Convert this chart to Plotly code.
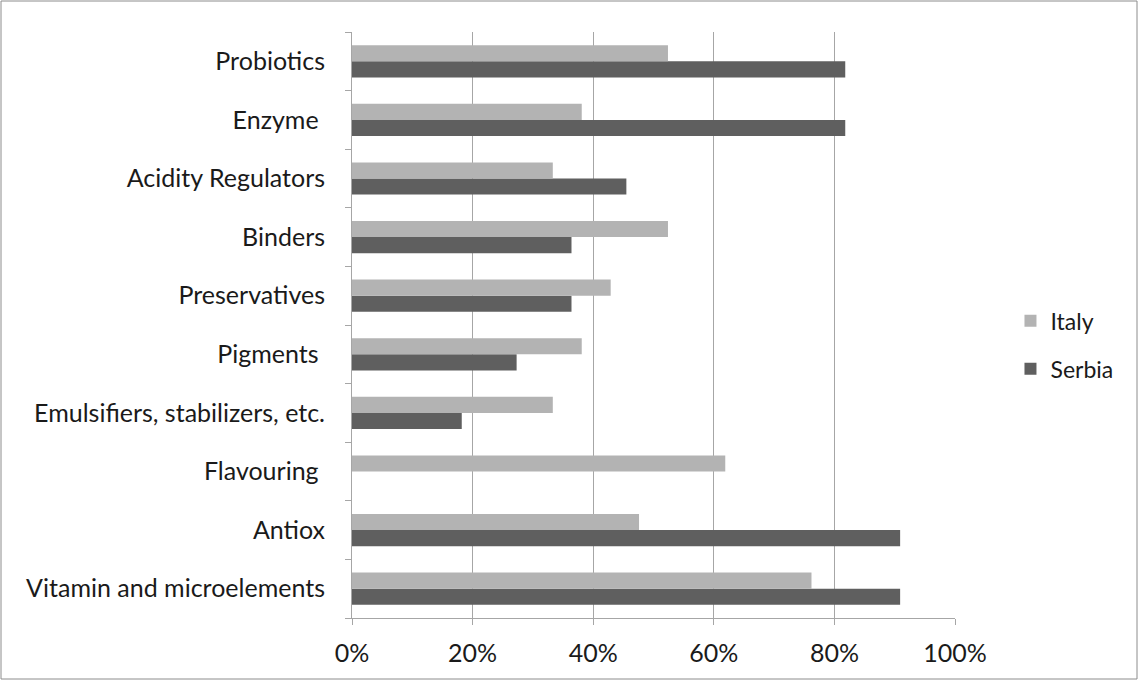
import plotly.graph_objects as go

# Additive categories, bottom to top
categories = [
    "Vitamin and microelements",
    "Antiox",
    "Flavouring ",
    "Emulsifiers, stabilizers, etc.",
    "Pigments ",
    "Preservatives",
    "Binders",
    "Acidity Regulators",
    "Enzyme ",
    "Probiotics",
]

# Share of respondents using each additive (fraction)
italy = [0.762, 0.476, 0.619, 0.333, 0.381, 0.429, 0.524, 0.333, 0.381, 0.524]
serbia = [0.909, 0.909, 0.0, 0.182, 0.273, 0.364, 0.364, 0.455, 0.818, 0.818]

x_ticks = [0, 0.2, 0.4, 0.6, 0.8, 1.0]
x_tick_labels = ["0%", "20%", "40%", "60%", "80%", "100%"]

font_family = "Lato, 'Open Sans', sans-serif"

fig = go.Figure()
# Serbia drawn first so that Italy sits above it within each category
fig.add_trace(go.Bar(
    y=categories, x=serbia, orientation="h", name="Serbia",
    legendgroup="serbia", legendrank=2,
    marker=dict(color="#5f5f5f", line=dict(width=0)),
))
fig.add_trace(go.Bar(
    y=categories, x=italy, orientation="h", name="Italy",
    legendgroup="italy", legendrank=1,
    marker=dict(color="#b3b3b3", line=dict(width=0)),
))

fig.update_layout(
    width=1139, height=680,
    margin=dict(l=352, r=184, t=32, b=62),
    paper_bgcolor="white", plot_bgcolor="white",
    barmode="group", bargap=0.45, bargroupgap=0,
    font=dict(family=font_family, size=24, color="#1a1a1a"),
    showlegend=True,
    legend=dict(
        x=1.092, y=0.466, xanchor="left", yanchor="middle",
        traceorder="grouped", font=dict(size=23),
        itemwidth=30, tracegroupgap=15,
    ),
    shapes=[dict(
        type="rect", xref="paper", yref="paper",
        x0=-351 / 603, x1=1 + 182 / 603, y0=-61 / 586, y1=1 + 31 / 586,
        line=dict(color="#8c8c8c", width=1), fillcolor="rgba(0,0,0,0)",
    )],
)

fig.update_xaxes(
    range=[0, 1.0], tickvals=x_ticks, ticktext=x_tick_labels,
    showgrid=True, gridcolor="#a6a6a6", gridwidth=1,
    showline=True, linecolor="#a6a6a6", linewidth=1,
    ticks="outside", ticklen=6, tickcolor="#a6a6a6",
    zeroline=False, tickfont=dict(size=25), ticklabelstandoff=7,
)
fig.update_yaxes(
    showline=True, linecolor="#a6a6a6", linewidth=1,
    ticks="outside", ticklen=6, tickcolor="#a6a6a6", tickson="boundaries",
    showgrid=False, ticklabelstandoff=21, tickfont=dict(size=25),
)

fig.write_html("out.html")
